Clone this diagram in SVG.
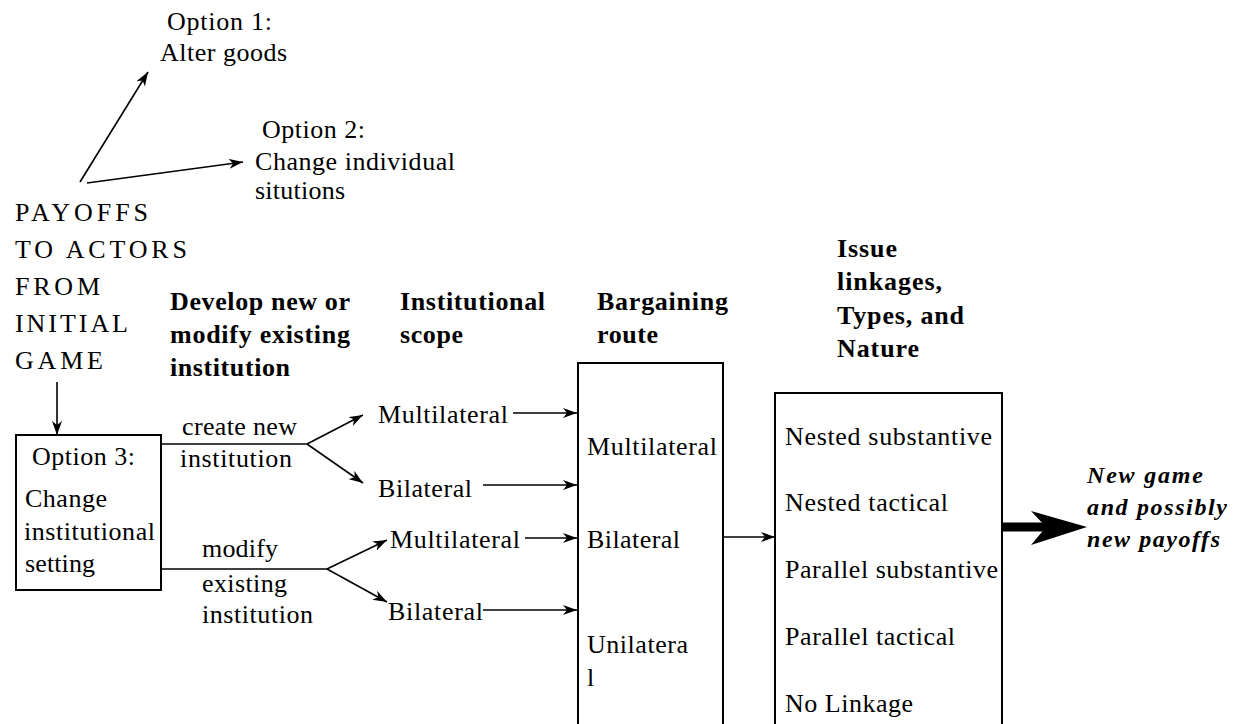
<svg xmlns="http://www.w3.org/2000/svg" width="1237" height="724" viewBox="0 0 1237 724">
<defs>
<marker id="ah" viewBox="0 0 14 10" markerWidth="14" markerHeight="10" refX="14" refY="5" orient="auto" markerUnits="userSpaceOnUse">
<path d="M0,0 L14,5 L0,10 L4,5 Z" fill="#000"/>
</marker>
</defs>
<style>
.box{fill:none;stroke:#000;stroke-width:2;}
.ln{fill:none;stroke:#000;stroke-width:1.6;}
.ar{fill:none;stroke:#000;stroke-width:1.6;marker-end:url(#ah);}
</style>
<rect width="1237" height="724" fill="#fff"/>

<g id="option1">
<text style="font-family:'Liberation Serif',serif;font-size:26px" x="167" y="30" textLength="105" lengthAdjust="spacing">Option 1:</text>
<text style="font-family:'Liberation Serif',serif;font-size:26px" x="160" y="61" textLength="127" lengthAdjust="spacing">Alter goods</text>
</g>
<g id="option2">
<text style="font-family:'Liberation Serif',serif;font-size:26px" x="262" y="138" textLength="103" lengthAdjust="spacing">Option 2:</text>
<text style="font-family:'Liberation Serif',serif;font-size:26px" x="255" y="170" textLength="200" lengthAdjust="spacing">Change individual</text>
<text style="font-family:'Liberation Serif',serif;font-size:26px" x="255" y="199" textLength="90" lengthAdjust="spacing">situtions</text>
</g>
<g id="payoffs">
<text style="font-family:'Liberation Serif',serif;font-size:26px" x="15" y="221" textLength="133" lengthAdjust="spacing">PAYOFFS</text>
<text style="font-family:'Liberation Serif',serif;font-size:26px" x="15" y="258" textLength="172" lengthAdjust="spacing">TO ACTORS</text>
<text style="font-family:'Liberation Serif',serif;font-size:26px" x="15" y="295" textLength="85" lengthAdjust="spacing">FROM</text>
<text style="font-family:'Liberation Serif',serif;font-size:26px" x="15" y="332" textLength="113" lengthAdjust="spacing">INITIAL</text>
<text style="font-family:'Liberation Serif',serif;font-size:26px" x="15" y="369" textLength="88" lengthAdjust="spacing">GAME</text>
</g>
<g id="header-develop">
<text style="font-family:'Liberation Serif',serif;font-size:26px;font-weight:bold" x="170" y="310" textLength="180" lengthAdjust="spacing">Develop new or</text>
<text style="font-family:'Liberation Serif',serif;font-size:26px;font-weight:bold" x="170" y="343" textLength="180" lengthAdjust="spacing">modify existing</text>
<text style="font-family:'Liberation Serif',serif;font-size:26px;font-weight:bold" x="170" y="376" textLength="120" lengthAdjust="spacing">institution</text>
</g>
<g id="header-scope">
<text style="font-family:'Liberation Serif',serif;font-size:26px;font-weight:bold" x="400" y="310" textLength="145" lengthAdjust="spacing">Institutional</text>
<text style="font-family:'Liberation Serif',serif;font-size:26px;font-weight:bold" x="400" y="343" textLength="63" lengthAdjust="spacing">scope</text>
</g>
<g id="header-bargaining">
<text style="font-family:'Liberation Serif',serif;font-size:26px;font-weight:bold" x="597" y="310" textLength="131" lengthAdjust="spacing">Bargaining</text>
<text style="font-family:'Liberation Serif',serif;font-size:26px;font-weight:bold" x="597" y="343" textLength="61" lengthAdjust="spacing">route</text>
</g>
<g id="header-issue">
<text style="font-family:'Liberation Serif',serif;font-size:26px;font-weight:bold" x="837" y="257" textLength="60" lengthAdjust="spacing">Issue</text>
<text style="font-family:'Liberation Serif',serif;font-size:26px;font-weight:bold" x="837" y="290" textLength="105" lengthAdjust="spacing">linkages,</text>
<text style="font-family:'Liberation Serif',serif;font-size:26px;font-weight:bold" x="837" y="324" textLength="127" lengthAdjust="spacing">Types, and</text>
<text style="font-family:'Liberation Serif',serif;font-size:26px;font-weight:bold" x="837" y="357" textLength="82" lengthAdjust="spacing">Nature</text>
</g>

<g id="option3">
<rect class="box" x="16" y="435" width="145" height="155"/>
<text style="font-family:'Liberation Serif',serif;font-size:26px" x="32" y="465" textLength="103" lengthAdjust="spacing">Option 3:</text>
<text style="font-family:'Liberation Serif',serif;font-size:26px" x="25" y="507" textLength="82" lengthAdjust="spacing">Change</text>
<text style="font-family:'Liberation Serif',serif;font-size:26px" x="24" y="540" textLength="131" lengthAdjust="spacing">institutional</text>
<text style="font-family:'Liberation Serif',serif;font-size:26px" x="25" y="572" textLength="70" lengthAdjust="spacing">setting</text>
</g>

<g id="labels-develop">
<text style="font-family:'Liberation Serif',serif;font-size:26px" x="182" y="435" textLength="115" lengthAdjust="spacing">create new</text>
<text style="font-family:'Liberation Serif',serif;font-size:26px" x="180" y="467" textLength="112" lengthAdjust="spacing">institution</text>
<text style="font-family:'Liberation Serif',serif;font-size:26px" x="202" y="557" textLength="76" lengthAdjust="spacing">modify</text>
<text style="font-family:'Liberation Serif',serif;font-size:26px" x="202" y="592" textLength="85" lengthAdjust="spacing">existing</text>
<text style="font-family:'Liberation Serif',serif;font-size:26px" x="202" y="623" textLength="111" lengthAdjust="spacing">institution</text>
</g>

<g id="scope-new-multi"><text style="font-family:'Liberation Serif',serif;font-size:26px" x="378" y="423" textLength="130" lengthAdjust="spacing">Multilateral</text></g>
<g id="scope-new-bi"><text style="font-family:'Liberation Serif',serif;font-size:26px" x="378" y="497" textLength="94" lengthAdjust="spacing">Bilateral</text></g>
<g id="scope-mod-multi"><text style="font-family:'Liberation Serif',serif;font-size:26px" x="390" y="548" textLength="130" lengthAdjust="spacing">Multilateral</text></g>
<g id="scope-mod-bi"><text style="font-family:'Liberation Serif',serif;font-size:26px" x="388" y="620" textLength="95" lengthAdjust="spacing">Bilateral</text></g>

<g id="bargaining-box">
<path class="box" d="M578,730 V363 H723 V730"/>
<text style="font-family:'Liberation Serif',serif;font-size:26px" x="587" y="455" textLength="130" lengthAdjust="spacing">Multilateral</text>
<text style="font-family:'Liberation Serif',serif;font-size:26px" x="587" y="548" textLength="93" lengthAdjust="spacing">Bilateral</text>
<text style="font-family:'Liberation Serif',serif;font-size:26px" x="587" y="653" textLength="101" lengthAdjust="spacing">Unilatera</text>
<text style="font-family:'Liberation Serif',serif;font-size:26px" x="587" y="686">l</text>
</g>

<g id="issue-box">
<path class="box" d="M775,730 V393 H1002 V730"/>
<text style="font-family:'Liberation Serif',serif;font-size:26px" x="785" y="445" textLength="207" lengthAdjust="spacing">Nested substantive</text>
<text style="font-family:'Liberation Serif',serif;font-size:26px" x="785" y="511" textLength="163" lengthAdjust="spacing">Nested tactical</text>
<text style="font-family:'Liberation Serif',serif;font-size:26px" x="785" y="578" textLength="213" lengthAdjust="spacing">Parallel substantive</text>
<text style="font-family:'Liberation Serif',serif;font-size:26px" x="785" y="645" textLength="170" lengthAdjust="spacing">Parallel tactical</text>
<text style="font-family:'Liberation Serif',serif;font-size:26px" x="785" y="712" textLength="128" lengthAdjust="spacing">No Linkage</text>
</g>

<g id="new-game">
<text style="font-family:'Liberation Serif',serif;font-size:24px;font-weight:bold;font-style:italic" x="1087" y="483" textLength="116" lengthAdjust="spacing">New game</text>
<text style="font-family:'Liberation Serif',serif;font-size:24px;font-weight:bold;font-style:italic" x="1087" y="515" textLength="140" lengthAdjust="spacing">and possibly</text>
<text style="font-family:'Liberation Serif',serif;font-size:24px;font-weight:bold;font-style:italic" x="1087" y="547" textLength="133" lengthAdjust="spacing">new payoffs</text>
</g>

<g id="connectors">
<line class="ar" x1="80" y1="182" x2="148" y2="72"/>
<line class="ar" x1="87" y1="183" x2="243" y2="162"/>
<line class="ar" x1="57" y1="382" x2="57" y2="435"/>
<polyline class="ln" points="161,444 307,444"/>
<line class="ar" x1="307" y1="444" x2="363" y2="415"/>
<line class="ar" x1="307" y1="444" x2="363" y2="483"/>
<polyline class="ln" points="161,569 327,569"/>
<line class="ar" x1="327" y1="569" x2="387" y2="540"/>
<line class="ar" x1="327" y1="569" x2="387" y2="602"/>
<line class="ar" x1="513" y1="413" x2="577" y2="413"/>
<line class="ar" x1="483" y1="485" x2="577" y2="485"/>
<line class="ar" x1="525" y1="538" x2="577" y2="538"/>
<line class="ar" x1="483" y1="610" x2="577" y2="610"/>
<line class="ar" x1="723" y1="537" x2="775" y2="537" stroke-width="2.2"/>
<line x1="1002" y1="527" x2="1050" y2="527" stroke="#000" stroke-width="9"/>
<path d="M1031,511 L1087,527 L1031,545 L1046,527 Z" fill="#000"/>
</g>
</svg>
